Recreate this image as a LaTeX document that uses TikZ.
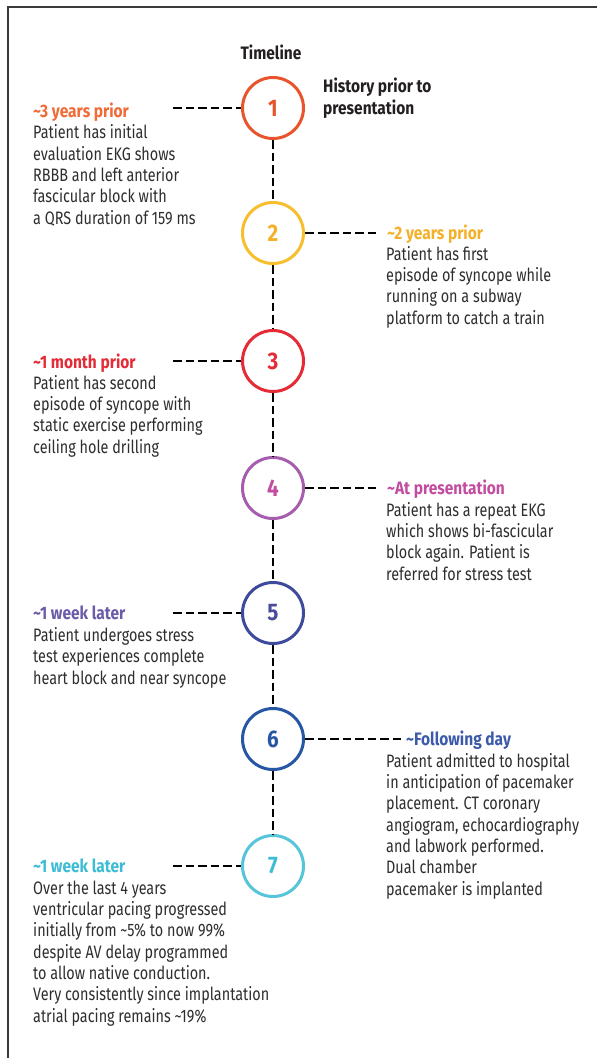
\documentclass[tikz,border=0pt]{standalone}
\usepackage{fontspec}
\setmainfont{Fira Sans}[FakeStretch=0.8, BoldFeatures={FakeStretch=0.86}]
\usepackage{tikz}
\usepackage{xcolor}
\usetikzlibrary{positioning}
\definecolor{BodyGray}{HTML}{2E2E2E}
\definecolor{TitleBlack}{HTML}{231F20}
\definecolor{FrameGray}{HTML}{3A3A3A}
\definecolor{StepOne}{HTML}{E8542B}
\definecolor{StepOneText}{HTML}{F26A36}
\definecolor{StepTwo}{HTML}{F7BE2E}
\definecolor{StepTwoText}{HTML}{F5B029}
\definecolor{StepThree}{HTML}{E52B36}
\definecolor{StepFour}{HTML}{A65DAE}
\definecolor{StepFourText}{HTML}{C24C9F}
\definecolor{StepFive}{HTML}{3E4A9C}
\definecolor{StepFiveNum}{HTML}{4B4B9C}
\definecolor{StepFiveText}{HTML}{6B5BA9}
\definecolor{StepSix}{HTML}{2756A4}
\definecolor{StepSixText}{HTML}{3C5AAA}
\definecolor{StepSeven}{HTML}{56C5DA}
\definecolor{StepSevenText}{HTML}{3DBDD5}
\tikzset{
    % Base text style
    basetext/.style={
        inner sep=0pt,
        text=BodyGray,
        font=\fontsize{18}{21.3}\selectfont
    },
    % Heading text
    titlenode/.style={
        basetext,
        text=TitleBlack,
        font=\fontsize{18}{21.3}\selectfont\bfseries
    },
    % Numbered circle on the timeline
    stepnode/.style={
        circle,
        fill=white,
        line width=3pt,
        minimum size=61pt,
        inner sep=0pt,
        font=\fontsize{24}{24}\selectfont\bfseries
    },
    % Coloured date label
    datenode/.style={
        basetext,
        anchor=base west,
        font=\fontsize{18}{21.3}\selectfont\bfseries
    },
    % Description text (placed by the baseline of its last line)
    bodynode/.style={
        basetext,
        align=left,
        anchor=base west
    },
    % Dashed connector
    dashlink/.style={
        draw=black,
        line width=2.2pt,
        dash pattern=on 8.5pt off 4pt
    },
    % Frame lines
    framelines/.style={
        draw=FrameGray,
        line width=1.5pt
    }
}
\begin{document}
\begin{tikzpicture}[x=1pt, y=-1pt]
        \useasboundingbox (0,0) rectangle (597,1058);
        \fill[white] (0,0) rectangle (597,1058);
        \draw[framelines] (597,7) -- (8,7) -- (8,1058);

        % Headings
        \node[titlenode, anchor=base] (title) at (271,59) {Timeline};
        \node[titlenode, align=left, anchor=base west] (history) at (323,114) {History prior to\\presentation};

        % Timeline circles
        \node[stepnode, draw=StepOne, text=StepOne] (s1) at (273,108) {1};
        \node[stepnode, draw=StepTwo, text=StepTwoText] (s2) at (273,233) {2};
        \node[stepnode, draw=StepThree, text=StepThree] (s3) at (273,361) {3};
        \node[stepnode, draw=StepFour, text=StepFourText] (s4) at (273,488) {4};
        \node[stepnode, draw=StepFive, text=StepFiveNum] (s5) at (273,613) {5};
        \node[stepnode, draw=StepSix, text=StepSix] (s6) at (273,739) {6};
        \node[stepnode, draw=StepSeven, text=StepSevenText] (s7) at (273,866) {7};

        % Event 1
        \node[datenode, text=StepOneText] (t1) at (33,117) {\textasciitilde 3 years prior};
        \node[bodynode] (b1) at (33,224) {
            Patient has initial\\
            evaluation EKG shows\\
            RBBB and left anterior\\
            fascicular block with\\
            a QRS duration of 159 ms
        };
        \coordinate (d1) at (173,108);

        % Event 2
        \node[datenode, text=StepTwoText] (t2) at (387,239) {\textasciitilde 2 years prior};
        \node[bodynode] (b2) at (386,324) {
            Patient has first\\
            episode of syncope while\\
            running on a subway\\
            platform to catch a train
        };
        \coordinate (d2) at (378,233);

        % Event 3
        \node[datenode, text=StepThree] (t3) at (33,368) {\textasciitilde 1 month prior};
        \node[bodynode] (b3) at (33,453) {
            Patient has second\\
            episode of syncope with\\
            static exercise performing\\
            ceiling hole drilling
        };
        \coordinate (d3) at (173,361);

        % Event 4
        \node[datenode, text=StepFourText] (t4) at (387,494) {\textasciitilde At presentation};
        \node[bodynode] (b4) at (386,580) {
            Patient has a repeat EKG\\
            which shows bi-fascicular\\
            block again. Patient is\\
            referred for stress test
        };
        \coordinate (d4) at (378,488);

        % Event 5
        \node[datenode, text=StepFiveText] (t5) at (33,619) {\textasciitilde 1 week later};
        \node[bodynode] (b5) at (33,684) {
            Patient undergoes stress\\
            test experiences complete\\
            heart block and near syncope
        };
        \coordinate (d5) at (173,613);

        % Event 6
        \node[datenode, text=StepSixText] (t6) at (406,745) {\textasciitilde Following day};
        \node[bodynode] (b6) at (386,895) {
            Patient admitted to hospital\\
            in anticipation of pacemaker\\
            placement. CT coronary\\
            angiogram, echocardiography\\
            and labwork performed.\\
            Dual chamber\\
            pacemaker is implanted
        };
        \coordinate (d6) at (403,739);

        % Event 7
        \node[datenode, text=StepSevenText] (t7) at (33,872) {\textasciitilde 1 week later};
        \node[bodynode] (b7) at (33,1022) {
            Over the last 4 years\\
            ventricular pacing progressed\\
            initially from \textasciitilde 5\% to now 99\%\\
            despite AV delay programmed\\
            to allow native conduction.\\
            Very consistently since implantation\\
            atrial pacing remains \textasciitilde 19\%
        };
        \coordinate (d7) at (173,866);

        % Connectors
        \draw[dashlink] (s1) -- (s2);
        \draw[dashlink] (s2) -- (s3);
        \draw[dashlink] (s3) -- (s4);
        \draw[dashlink] (s4) -- (s5);
        \draw[dashlink] (s5) -- (s6);
        \draw[dashlink] (s6) -- (s7);
        \draw[dashlink] (d1) -- (s1);
        \draw[dashlink] (s2) -- (d2);
        \draw[dashlink] (d3) -- (s3);
        \draw[dashlink] (s4) -- (d4);
        \draw[dashlink] (d5) -- (s5);
        \draw[dashlink] (s6) -- (d6);
        \draw[dashlink] (d7) -- (s7);
    \end{tikzpicture}
\end{document}
